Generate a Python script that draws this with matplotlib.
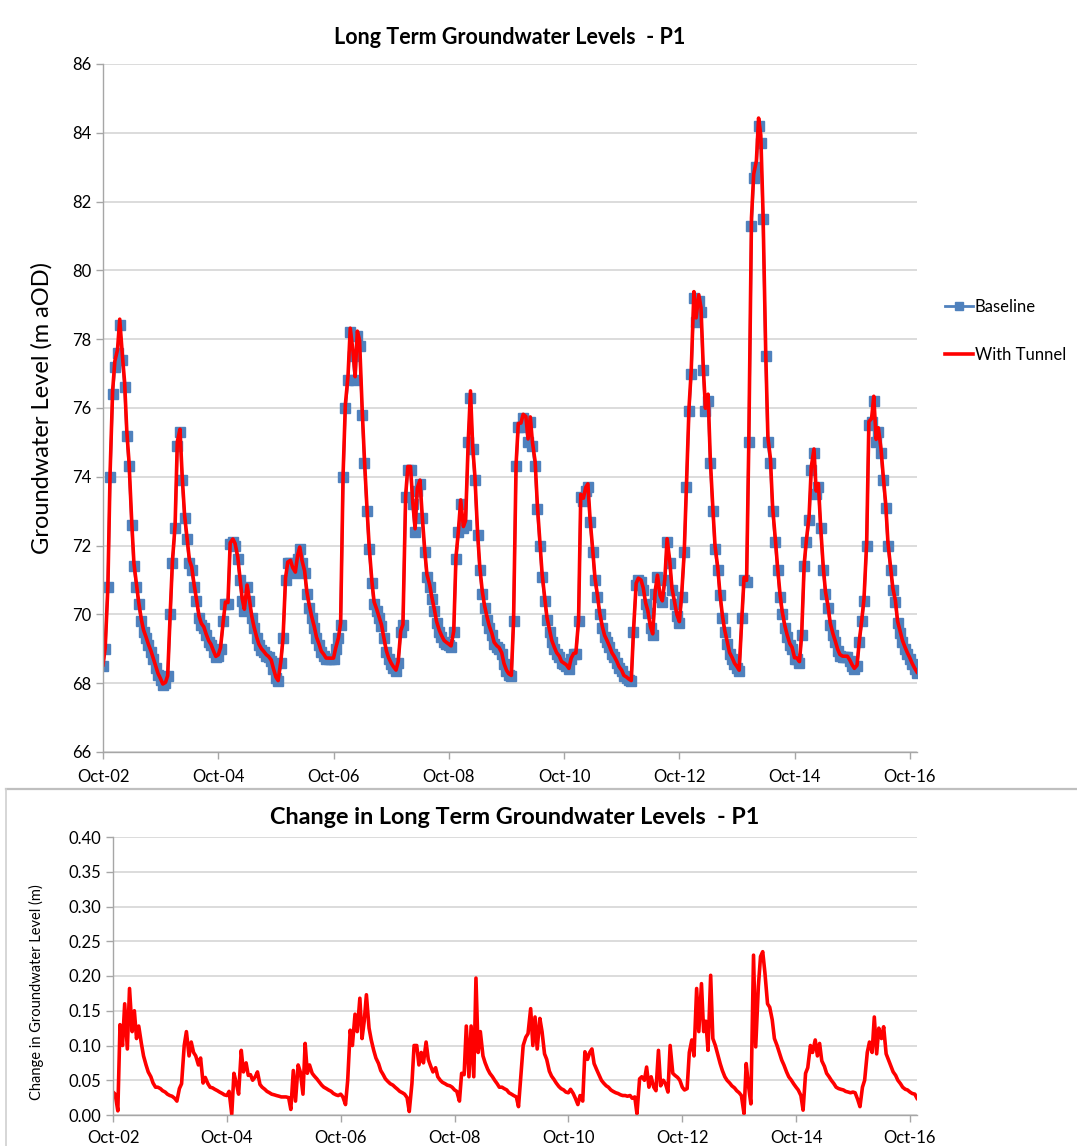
import matplotlib
matplotlib.use("Agg")
import matplotlib.pyplot as plt
import matplotlib.dates as mdates
from matplotlib.lines import Line2D
import numpy as np
import pandas as pd

plt.rcParams['font.family'] = ['Lato', 'DejaVu Sans']

# ---- Data: semi-monthly values (1st and 15th), one list per water year (Oct-Sep) ----
# Baseline groundwater level (m aOD)
BASE_2002 = [68.5, 69.0, 70.8, 74.0, 76.4, 77.2, 77.6, 78.4, 77.4, 76.6, 75.2, 74.3,
             72.6, 71.4, 70.8, 70.3, 69.8, 69.5, 69.3, 69.1, 68.9, 68.7, 68.45, 68.25]
BASE_2003 = [68.1, 67.95, 68.0, 68.2, 70.0, 71.5, 72.5, 74.9, 75.3, 73.9, 72.8, 72.2,
             71.5, 71.3, 70.8, 70.4, 69.9, 69.7, 69.6, 69.4, 69.2, 69.1, 68.9, 68.75]
BASE_2004 = [68.8, 69.0, 69.8, 70.3, 70.3, 72.05, 72.1, 72.0, 71.6, 71.0, 70.4, 70.1,
             70.8, 70.4, 69.9, 69.6, 69.3, 69.1, 68.97, 68.9, 68.8, 68.75, 68.65, 68.4]
BASE_2005 = [68.15, 68.05, 68.6, 69.3, 71.0, 71.5, 71.5, 71.3, 71.2, 71.6, 71.9, 71.5,
             71.2, 70.6, 70.2, 69.9, 69.6, 69.3, 69.1, 68.9, 68.8, 68.7, 68.7, 68.7]
BASE_2006 = [68.7, 69.0, 69.3, 69.7, 74.0, 76.0, 76.8, 78.2, 77.5, 76.8, 78.1, 77.8,
             75.8, 74.4, 73.0, 71.9, 70.9, 70.3, 70.1, 69.9, 69.65, 69.3, 68.9, 68.7]
BASE_2007 = [68.55, 68.45, 68.35, 68.6, 69.5, 69.7, 73.4, 74.2, 74.2, 73.2, 72.4, 73.6,
             73.8, 72.8, 71.8, 71.1, 70.8, 70.45, 70.1, 69.75, 69.5, 69.35, 69.2, 69.15]
BASE_2008 = [69.1, 69.05, 69.5, 71.6, 72.4, 73.2, 72.5, 72.6, 75.0, 76.3, 74.8, 73.9,
             72.3, 71.3, 70.6, 70.2, 69.85, 69.6, 69.4, 69.15, 69.05, 69.0, 68.85, 68.55]
BASE_2009 = [68.35, 68.25, 68.2, 69.8, 74.3, 75.45, 75.45, 75.7, 75.6, 75.0, 75.6, 74.9,
             74.3, 73.05, 72.0, 71.1, 70.4, 69.85, 69.5, 69.2, 69.0, 68.85, 68.75, 68.6]
BASE_2010 = [68.55, 68.5, 68.4, 68.7, 68.85, 68.85, 69.8, 73.4, 73.3, 73.6, 73.7, 72.7,
             71.8, 71.0, 70.5, 70.0, 69.6, 69.35, 69.2, 69.05, 68.85, 68.75, 68.6, 68.45]
BASE_2011 = [68.35, 68.2, 68.15, 68.1, 68.05, 69.5, 70.85, 71.0, 70.95, 70.7, 70.3, 70.05,
             69.6, 69.4, 70.6, 71.1, 70.5, 70.35, 71.0, 72.1, 71.5, 70.7, 70.3, 69.95]
BASE_2012 = [69.75, 70.5, 71.8, 73.7, 75.9, 77.0, 79.2, 78.5, 79.1, 78.8, 77.1, 75.9,
             76.2, 74.4, 73.0, 71.9, 71.3, 70.55, 69.9, 69.5, 69.15, 68.85, 68.7, 68.55]
BASE_2013 = [68.45, 68.35, 69.9, 71.0, 70.95, 75.0, 81.3, 82.7, 83.0, 84.2, 83.7, 81.5,
             77.5, 75.0, 74.4, 73.0, 72.1, 71.3, 70.5, 70.0, 69.6, 69.35, 69.1, 69.0]
BASE_2014 = [68.7, 68.7, 68.6, 69.4, 71.4, 72.1, 72.75, 74.2, 74.7, 73.5, 73.7, 72.5,
             71.3, 70.6, 70.2, 69.7, 69.4, 69.2, 68.95, 68.8, 68.75, 68.75, 68.75, 68.65]
BASE_2015 = [68.5, 68.4, 68.5, 69.2, 69.8, 70.4, 72.0, 75.5, 75.6, 76.2, 75.0, 75.3,
             74.7, 73.9, 73.1, 72.0, 71.3, 70.7, 70.35, 69.75, 69.45, 69.2, 69.0, 68.85]
BASE_2016 = [68.7, 68.55, 68.4, 68.3]

# Change in groundwater level with tunnel (m)
CHG_2002 = [0.033, 0.030, 0.006, 0.130, 0.100, 0.160, 0.095, 0.182, 0.120, 0.150, 0.110, 0.128,
            0.103, 0.085, 0.072, 0.062, 0.055, 0.046, 0.040, 0.040, 0.038, 0.035, 0.033, 0.030]
CHG_2003 = [0.028, 0.027, 0.024, 0.020, 0.038, 0.045, 0.100, 0.120, 0.085, 0.105, 0.090, 0.085,
            0.072, 0.082, 0.046, 0.054, 0.045, 0.040, 0.039, 0.037, 0.035, 0.033, 0.031, 0.029]
CHG_2004 = [0.028, 0.034, 0.001, 0.060, 0.045, 0.030, 0.093, 0.062, 0.075, 0.057, 0.058, 0.050,
            0.055, 0.062, 0.044, 0.040, 0.037, 0.034, 0.032, 0.030, 0.029, 0.028, 0.027, 0.026]
CHG_2005 = [0.026, 0.026, 0.025, 0.008, 0.064, 0.020, 0.072, 0.062, 0.030, 0.103, 0.060, 0.072,
            0.060, 0.056, 0.052, 0.048, 0.043, 0.040, 0.038, 0.036, 0.034, 0.031, 0.029, 0.028]
CHG_2006 = [0.030, 0.026, 0.015, 0.050, 0.122, 0.100, 0.145, 0.120, 0.168, 0.110, 0.135, 0.173,
            0.125, 0.108, 0.093, 0.082, 0.074, 0.064, 0.058, 0.052, 0.048, 0.045, 0.043, 0.040]
CHG_2007 = [0.037, 0.034, 0.032, 0.030, 0.025, 0.005, 0.045, 0.100, 0.100, 0.072, 0.090, 0.075,
            0.105, 0.080, 0.070, 0.062, 0.068, 0.055, 0.050, 0.047, 0.045, 0.043, 0.042, 0.040]
CHG_2008 = [0.036, 0.034, 0.020, 0.060, 0.058, 0.128, 0.055, 0.128, 0.055, 0.197, 0.090, 0.120,
            0.085, 0.075, 0.066, 0.060, 0.055, 0.050, 0.045, 0.040, 0.040, 0.038, 0.036, 0.032]
CHG_2009 = [0.030, 0.028, 0.026, 0.012, 0.060, 0.100, 0.112, 0.117, 0.153, 0.100, 0.141, 0.095,
            0.139, 0.120, 0.088, 0.080, 0.063, 0.056, 0.051, 0.046, 0.041, 0.038, 0.036, 0.033]
CHG_2010 = [0.032, 0.037, 0.031, 0.024, 0.015, 0.028, 0.020, 0.091, 0.080, 0.090, 0.095, 0.074,
            0.065, 0.058, 0.050, 0.046, 0.042, 0.040, 0.036, 0.034, 0.032, 0.031, 0.029, 0.028]
CHG_2011 = [0.028, 0.027, 0.028, 0.024, 0.026, 0.002, 0.052, 0.055, 0.050, 0.069, 0.040, 0.055,
            0.040, 0.035, 0.093, 0.042, 0.050, 0.045, 0.033, 0.100, 0.060, 0.057, 0.054, 0.050]
CHG_2012 = [0.040, 0.036, 0.038, 0.090, 0.108, 0.085, 0.182, 0.120, 0.189, 0.120, 0.135, 0.093,
            0.201, 0.110, 0.100, 0.088, 0.074, 0.064, 0.055, 0.050, 0.046, 0.042, 0.039, 0.035]
CHG_2013 = [0.032, 0.028, 0.002, 0.074, 0.040, 0.016, 0.230, 0.098, 0.185, 0.228, 0.235, 0.205,
            0.160, 0.155, 0.137, 0.110, 0.100, 0.090, 0.079, 0.072, 0.062, 0.055, 0.050, 0.045]
CHG_2014 = [0.040, 0.036, 0.028, 0.007, 0.060, 0.068, 0.100, 0.090, 0.108, 0.085, 0.103, 0.078,
            0.070, 0.060, 0.055, 0.050, 0.045, 0.040, 0.038, 0.037, 0.036, 0.034, 0.033, 0.032]
CHG_2015 = [0.033, 0.032, 0.022, 0.012, 0.040, 0.050, 0.090, 0.105, 0.090, 0.141, 0.088, 0.125,
            0.110, 0.127, 0.088, 0.080, 0.070, 0.062, 0.057, 0.050, 0.045, 0.040, 0.037, 0.036]
CHG_2016 = [0.033, 0.031, 0.030, 0.024]

START_DATE = "2002-10-01"
TICK_YEARS = [2002, 2004, 2006, 2008, 2010, 2012, 2014, 2016]

TITLE_TOP = "Long Term Groundwater Levels  - P1"
TITLE_BOTTOM = "Change in Long Term Groundwater Levels  - P1"
YLABEL_TOP = "Groundwater Level (m aOD)"
YLABEL_BOTTOM = "Change in Groundwater Level (m)"

BLUE = "#4F81BD"
RED = "#FF0000"
GRID = "#D9D9D9"
AXIS = "#A6A6A6"

baseline = np.array(BASE_2002 + BASE_2003 + BASE_2004 + BASE_2005 + BASE_2006 + BASE_2007
                    + BASE_2008 + BASE_2009 + BASE_2010 + BASE_2011 + BASE_2012 + BASE_2013
                    + BASE_2014 + BASE_2015 + BASE_2016)
change = np.array(CHG_2002 + CHG_2003 + CHG_2004 + CHG_2005 + CHG_2006 + CHG_2007
                  + CHG_2008 + CHG_2009 + CHG_2010 + CHG_2011 + CHG_2012 + CHG_2013
                  + CHG_2014 + CHG_2015 + CHG_2016)
with_tunnel = baseline + change
dates = pd.date_range(START_DATE, periods=len(baseline), freq="SMS")

W, H = 1077, 1146
fig = plt.figure(figsize=(W / 100, H / 100), dpi=100)


def style_axis(ax):
    for side in ("top", "right"):
        ax.spines[side].set_visible(False)
    for side in ("left", "bottom"):
        ax.spines[side].set_color(AXIS)
        ax.spines[side].set_linewidth(1.0)
    ax.grid(axis="y", color=GRID, linewidth=1.3)
    ax.set_axisbelow(True)
    ax.tick_params(axis="both", colors=AXIS, length=5, width=1.0,
                   labelcolor="black", labelsize=12)
    ax.set_xlim(dates[0], dates[-1])
    ax.set_xticks([pd.Timestamp(f"{y}-10-01") for y in TICK_YEARS])
    ax.xaxis.set_major_formatter(mdates.DateFormatter("%b-%y"))


# ---- Top panel ----
ax1 = fig.add_axes([103 / W, 1 - 752 / H, 814 / W, 688 / H])
style_axis(ax1)
ax1.plot(dates, baseline, color=BLUE, lw=2, marker="s", ms=6.5,
         mec=BLUE, mfc=BLUE, label="Baseline")
ax1.plot(dates, with_tunnel, color=RED, lw=2.6, label="With Tunnel")
ax1.set_ylim(66, 86)
ax1.set_yticks(np.arange(66, 87, 2))
ax1.tick_params(axis="x", pad=7)

fig.text(510 / W, 1 - 38 / H, TITLE_TOP, ha="center", va="center",
         fontsize=15.5, fontweight="bold")
fig.text(42 / W, 1 - 408 / H, YLABEL_TOP, ha="center", va="center",
         rotation=90, fontsize=17)

handles = [Line2D([], [], color=BLUE, lw=2, marker="s", ms=6),
           Line2D([], [], color=RED, lw=2.6)]
fig.legend(handles, ["Baseline", "With Tunnel"], loc="upper left",
           bbox_to_anchor=(930 / W, 1 - 284 / H), frameon=False,
           handlelength=1.7, handletextpad=0.1, labelspacing=1.9, fontsize=12)

# ---- Separator between the two charts ----
ysep = 1 - 789 / H
fig.add_artist(Line2D([6 / W, 1], [ysep, ysep], color="#BFBFBF", lw=1.6))
fig.add_artist(Line2D([6 / W, 6 / W], [0, ysep], color="#D0D0D0", lw=1.2))

# ---- Bottom panel ----
ax2 = fig.add_axes([113 / W, 1 - 1115 / H, 804 / W, 278 / H])
style_axis(ax2)
ax2.plot(dates, change, color=RED, lw=2.6)
ax2.set_ylim(0, 0.40)
ax2.set_yticks(np.arange(0, 0.401, 0.05))
ax2.yaxis.set_major_formatter(plt.FormatStrFormatter("%.2f"))
ax2.tick_params(axis="x", pad=6)

fig.text(515 / W, 1 - 818 / H, TITLE_BOTTOM, ha="center", va="center",
         fontsize=16.8, fontweight="bold")
fig.text(36 / W, 1 - 992 / H, YLABEL_BOTTOM, ha="center", va="center",
         rotation=90, fontsize=10.5)

fig.savefig("out.png", dpi=100)
plt.close(fig)
